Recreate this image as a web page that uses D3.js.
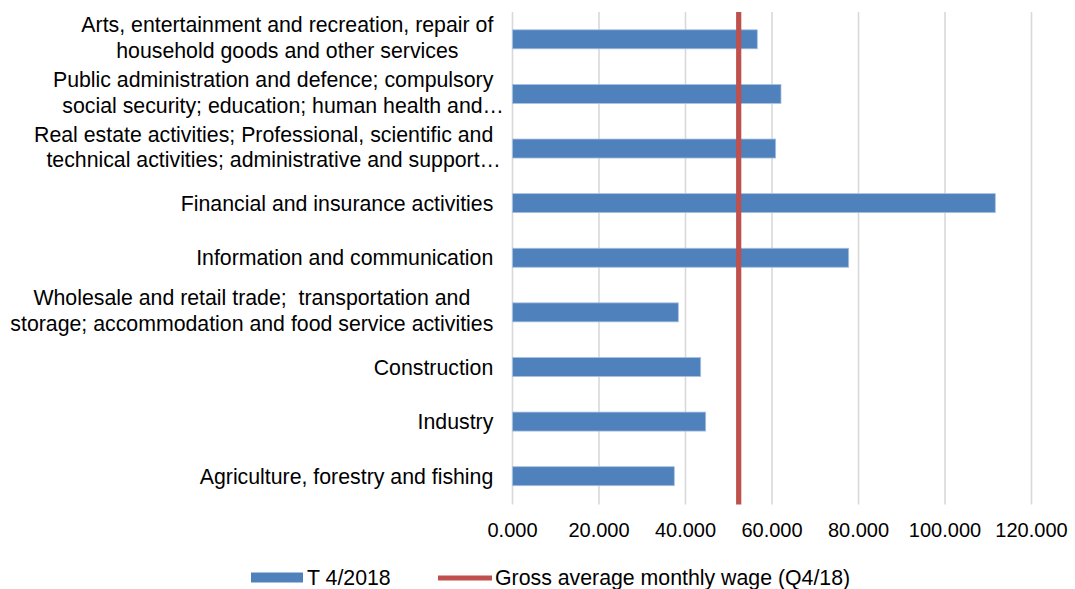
<!DOCTYPE html>
<html><head><meta charset="utf-8">
<script src="https://cdn.jsdelivr.net/npm/d3@7"></script>
<style>
html,body{margin:0;padding:0;background:#fff;}
svg{display:block;font-family:"Liberation Sans",Arial,sans-serif;}
text{white-space:pre;}
</style></head>
<body><svg id="c" width="1075" height="589"></svg>
<script>
// Data (top to bottom)
const categories = [
  ["Arts, entertainment and recreation, repair of", "household goods and other services"],
  ["Public administration and defence; compulsory", "social security; education; human health and\u2026"],
  ["Real estate activities; Professional, scientific and", "technical activities; administrative and support\u2026"],
  ["Financial and insurance activities"],
  ["Information and communication"],
  ["Wholesale and retail trade;  transportation and", "storage; accommodation and food service activities"],
  ["Construction"],
  ["Industry"],
  ["Agriculture, forestry and fishing"]
];
const wageValues = [56600, 62080, 60850, 111630, 77730, 38340, 43510, 44670, 37410];
const averageWage = 52300;
const xTicks = [0, 20000, 40000, 60000, 80000, 100000, 120000];
const xTickLabels = ["0.000", "20.000", "40.000", "60.000", "80.000", "100.000", "120.000"];
const seriesNames = ["T 4/2018", "Gross average monthly wage (Q4/18)"];

const svg = d3.select("#c");
const plot = {left: 512.5, right: 1031.5, top: 12, bottom: 503.5};

const x = d3.scaleLinear().domain([0, 120000]).range([plot.left, plot.right]);
const y = d3.scaleBand().domain(d3.range(categories.length))
  .range([plot.top, plot.bottom]).paddingInner(0.652).paddingOuter(0.326);

// gridlines
svg.append("g").selectAll("line").data(xTicks).join("line")
  .attr("x1", d => x(d)).attr("x2", d => x(d))
  .attr("y1", plot.top).attr("y2", plot.bottom + 1)
  .attr("stroke", "#D9D9D9").attr("stroke-width", 1.6);

// bars
svg.append("g").selectAll("rect").data(wageValues).join("rect")
  .attr("x", x(0)).attr("y", (d, i) => y(i))
  .attr("width", d => x(d) - x(0)).attr("height", y.bandwidth())
  .attr("fill", "#4F81BD").attr("stroke", "#A9C1DF").attr("stroke-width", 0.8);

// average wage line
svg.append("line")
  .attr("x1", x(averageWage)).attr("x2", x(averageWage))
  .attr("y1", plot.top).attr("y2", plot.bottom + 1)
  .attr("stroke", "#C0504D").attr("stroke-width", 5.2);

// x tick labels
svg.append("g").selectAll("text").data(xTicks).join("text")
  .attr("x", d => x(d)).attr("y", 537)
  .attr("text-anchor", "middle").attr("font-size", 20).attr("fill", "#000")
  .text((d, i) => xTickLabels[i]);

// category labels: block right-aligned, lines centered within block
const fs = 21.3, lh = 25.5;
categories.forEach((lines, i) => {
  const g = svg.append("g");
  const cy = y(i) + y.bandwidth() / 2;
  const off = lines.length > 1 ? -1.8 : 0;
  const texts = lines.map((ln, j) => g.append("text")
    .attr("font-size", fs).attr("fill", "#000")
    .attr("y", cy + off + 0.36 * fs + (j - (lines.length - 1) / 2) * lh)
    .text(ln));
  const full = texts.filter((t, j) => !lines[j].endsWith("\u2026"));
  const w = d3.max(full.map(t => t.node().getComputedTextLength()));
  const center = 493.3 - w / 2;
  texts.forEach((t, j) => t.attr("x", center + (lines[j].endsWith("\u2026") ? 10 : 0))
    .attr("text-anchor", "middle"));
});

// legend
const lg = svg.append("g");
lg.append("rect").attr("x", 251).attr("y", 572.5).attr("width", 52).attr("height", 10).attr("fill", "#4F81BD");
lg.append("text").attr("x", 307).attr("y", 584.5).attr("font-size", fs).text(seriesNames[0]);
lg.append("line").attr("x1", 438).attr("x2", 492).attr("y1", 578).attr("y2", 578)
  .attr("stroke", "#C0504D").attr("stroke-width", 5);
lg.append("text").attr("x", 495).attr("y", 584.5).attr("font-size", fs).text(seriesNames[1]);
</script></body></html>
